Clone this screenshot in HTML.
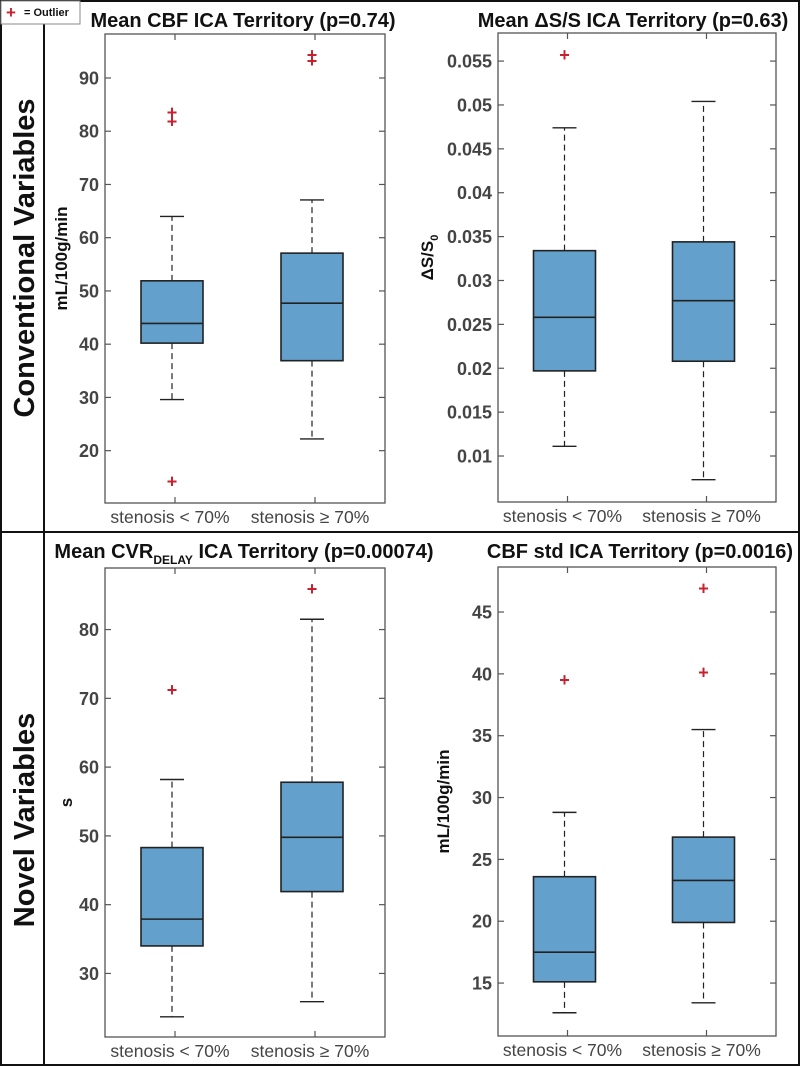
<!DOCTYPE html>
<html><head><meta charset="utf-8">
<style>
html,body{margin:0;padding:0;background:#fff;}
svg{display:block;font-family:"Liberation Sans",sans-serif;}
</style></head>
<body>
<svg id="fig" width="800" height="1066" viewBox="0 0 800 1066" xmlns="http://www.w3.org/2000/svg">
<rect x="1" y="1" width="798" height="1064" fill="none" stroke="#111" stroke-width="2"/>
<line x1="44" y1="0" x2="44" y2="1066" stroke="#111" stroke-width="2"/>
<line x1="0" y1="532" x2="800" y2="532" stroke="#111" stroke-width="2"/>
<g>
<rect x="1" y="1" width="79" height="23" fill="#fff" stroke="#888" stroke-width="1"/>
<text x="6" y="18" fill="#c8202f" font-size="17" font-weight="bold">+</text>
<text x="24" y="16" fill="#111" font-size="11" font-weight="bold">= Outlier</text>
</g>
<text transform="translate(34,258) rotate(-90)" text-anchor="middle" font-size="29" font-weight="bold" fill="#111">Conventional Variables</text>
<text transform="translate(34,820) rotate(-90)" text-anchor="middle" font-size="29" font-weight="bold" fill="#111">Novel Variables</text>
</svg>
<script>
const categories = ["stenosis < 70%", "stenosis \u2265 70%"];
// panel 1: Mean CBF
const cbfQ1 = [40.2, 36.9];
const cbfMed = [43.9, 47.7];
const cbfQ3 = [51.9, 57.1];
const cbfLo = [29.6, 22.2];
const cbfHi = [64.0, 67.1];
const cbfOut = [[83.5, 81.8, 14.2], [94.3, 93.2]];
const cbfTicks = [20, 30, 40, 50, 60, 70, 80, 90];
// panel 2: Mean dS/S
const dsQ1 = [0.0197, 0.0208];
const dsMed = [0.0258, 0.0277];
const dsQ3 = [0.0334, 0.0344];
const dsLo = [0.0111, 0.0073];
const dsHi = [0.0474, 0.0504];
const dsOut = [[0.0557], []];
const dsTicks = [0.01, 0.015, 0.02, 0.025, 0.03, 0.035, 0.04, 0.045, 0.05, 0.055];
// panel 3: CVR delay
const cvrQ1 = [34.0, 41.9];
const cvrMed = [37.9, 49.8];
const cvrQ3 = [48.3, 57.8];
const cvrLo = [23.7, 25.9];
const cvrHi = [58.2, 81.5];
const cvrOut = [[71.2], [85.9]];
const cvrTicks = [30, 40, 50, 60, 70, 80];
// panel 4: CBF std
const stdQ1 = [15.1, 19.9];
const stdMed = [17.5, 23.3];
const stdQ3 = [23.6, 26.8];
const stdLo = [12.6, 13.4];
const stdHi = [28.8, 35.5];
const stdOut = [[39.5], [46.9, 40.1]];
const stdTicks = [15, 20, 25, 30, 35, 40, 45];

const NS = "http://www.w3.org/2000/svg";
const svg = document.getElementById("fig");
function mk(tag, attrs, parent) {
  const e = document.createElementNS(NS, tag);
  Object.keys(attrs).forEach(function (k) { e.setAttribute(k, String(attrs[k])); });
  (parent || svg).appendChild(e);
  return e;
}

const panels = [
  {id:"cbf-mean", title:"Mean CBF ICA Territory (p=0.74)", ylabel:"mL/100g/min", x0:105, x1:385, y0:34, y1:503, ymin:10.17, ymax:98.26,
   q1:cbfQ1, med:cbfMed, q3:cbfQ3, lo:cbfLo, hi:cbfHi, out:cbfOut, ticks:cbfTicks, dec:0, ylx:67, tcx:243},
  {id:"dss-mean", title:"Mean \u0394S/S ICA Territory (p=0.63)", ylabel:"dss", x0:498, x1:776, y0:33, y1:502, ymin:0.00476, ymax:0.0582,
   q1:dsQ1, med:dsMed, q3:dsQ3, lo:dsLo, hi:dsHi, out:dsOut, ticks:dsTicks, dec:3, ylx:433, tcx:633},
  {id:"cvr-delay", title:"cvr", ylabel:"s", x0:105, x1:385, y0:568, y1:1037, ymin:20.76, ymax:88.95,
   q1:cvrQ1, med:cvrMed, q3:cvrQ3, lo:cvrLo, hi:cvrHi, out:cvrOut, ticks:cvrTicks, dec:0, ylx:72, tcx:244},
  {id:"cbf-std", title:"CBF std ICA Territory (p=0.0016)", ylabel:"mL/100g/min", x0:498, x1:776, y0:567, y1:1036, ymin:10.72, ymax:48.64,
   q1:stdQ1, med:stdMed, q3:stdQ3, lo:stdLo, hi:stdHi, out:stdOut, ticks:stdTicks, dec:0, ylx:449, tcx:640}
];

function drawPanel(p) {
  const g = mk("g", {});
  
  
  function ys(v) { return p.y1 - (v - p.ymin) / (p.ymax - p.ymin) * (p.y1 - p.y0); }
  function cx(i) { return p.x0 + (p.x1 - p.x0) * (0.25 + 0.5 * i); }
  const ty = p.y0 < 100 ? 27 : 558;
  const t = mk("text", {x: p.tcx, y: ty, "text-anchor": "middle", "font-size": 20, "font-weight": "bold", fill: "#111"}, g);
  if (p.title === "cvr") {
    const a = mk("tspan", {}, t); a.textContent = "Mean CVR";
    const b = mk("tspan", {dy: 6, "font-size": 12}, t); b.textContent = "DELAY";
    const c = mk("tspan", {dy: -6}, t); c.textContent = " ICA Territory (p=0.00074)";
  } else {
    t.textContent = p.title;
  }
  
  
  const ym = (p.y0 + p.y1) / 2 - (p.y0 < 100 ? 10 : 0);
  const yl = mk("text", {transform: "translate(" + p.ylx + "," + ym + ") rotate(-90)", "text-anchor": "middle", "font-size": 17, "font-weight": "bold", fill: "#111"}, g);
  if (p.ylabel === "dss") {
    const a = mk("tspan", {}, yl); a.textContent = "\u0394S/S";
    const b = mk("tspan", {dy: 5, "font-size": 11}, yl); b.textContent = "0";
  } else {
    yl.textContent = p.ylabel;
  }
  
  

  for (let i = 0; i < categories.length; i++) {
    const bx = cx(i) - 3;
    const hw = 31, cw = 12;
    const yQ1 = ys(p.q1[i]), yQ3 = ys(p.q3[i]), yMed = ys(p.med[i]), yLo = ys(p.lo[i]), yHi = ys(p.hi[i]);
    const w1 = mk("line", {x1: bx, x2: bx, y1: yQ3, y2: yHi, stroke: "#222", "stroke-width": 1.2, "stroke-dasharray": "6 4"}, g);
    
    
    const w2 = mk("line", {x1: bx, x2: bx, y1: yQ1, y2: yLo, stroke: "#222", "stroke-width": 1.2, "stroke-dasharray": "6 4"}, g);
    
    
    const c1 = mk("line", {x1: bx - cw, x2: bx + cw, y1: yHi, y2: yHi, stroke: "#222", "stroke-width": 1.4}, g);
    
    
    const c2 = mk("line", {x1: bx - cw, x2: bx + cw, y1: yLo, y2: yLo, stroke: "#222", "stroke-width": 1.4}, g);
    
    
    const bxr = mk("rect", {x: bx - hw, y: Math.min(yQ1, yQ3), width: 2 * hw, height: Math.abs(yQ1 - yQ3), fill: "#64a0cc", stroke: "#222", "stroke-width": 1.6}, g);
    
    
    const md = mk("line", {x1: bx - hw, x2: bx + hw, y1: yMed, y2: yMed, stroke: "#222", "stroke-width": 1.6}, g);
    
    
    p.out[i].forEach(function (v) {
      const o = mk("text", {x: bx, y: ys(v) + 6, "text-anchor": "middle", "font-size": 18, "font-weight": "bold", fill: "#c8202f"}, g);
      o.textContent = "+";
      
      
    });
  }

  const fr = mk("rect", {x: p.x0, y: p.y0, width: p.x1 - p.x0, height: p.y1 - p.y0, fill: "none", stroke: "#555", "stroke-width": 1.3}, g);
  
  
  p.ticks.forEach(function (v) {
    const y = ys(v);
    mk("line", {x1: p.x0, x2: p.x0 + 6, y1: y, y2: y, stroke: "#555", "stroke-width": 1.2}, g);
    mk("line", {x1: p.x1 - 6, x2: p.x1, y1: y, y2: y, stroke: "#555", "stroke-width": 1.2}, g);
    const lt = mk("text", {x: p.x0 - 6, y: y + 6.5, "text-anchor": "end", "font-size": 18, "font-weight": "bold", fill: "#444"}, g);
    lt.textContent = String(+v.toFixed(p.dec));
    
    
  });
  categories.forEach(function (cat, i) {
    const x = cx(i);
    mk("line", {x1: x, x2: x, y1: p.y0, y2: p.y0 + 6, stroke: "#555", "stroke-width": 1.2}, g);
    mk("line", {x1: x, x2: x, y1: p.y1 - 6, y2: p.y1, stroke: "#555", "stroke-width": 1.2}, g);
    const xl = mk("text", {x: x - 5, y: p.y1 + 20, "text-anchor": "middle", "font-size": 17.5, fill: "#444"}, g);
    xl.textContent = cat;
    
    
  });
}
panels.forEach(drawPanel);
</script>
</body></html>
